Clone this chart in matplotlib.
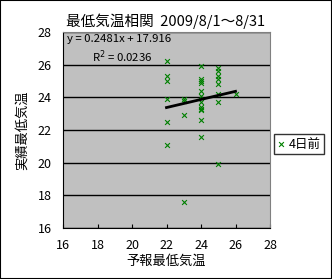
import matplotlib
matplotlib.use("Agg")
import matplotlib.pyplot as plt
import numpy as np

plt.rcParams['font.family'] = ['Noto Sans CJK JP', 'DejaVu Sans']

# 予報 (x) と 実績 (y) の最低気温, 8/1〜8/31
forecast = [22, 22, 22, 22, 22, 22,
            23, 23, 23, 23,
            24, 24, 24, 24, 24, 24, 24, 24, 24, 24, 24, 24,
            25, 25, 25, 25, 25, 25, 25, 25,
            26]
actual = [26.2, 25.3, 25.0, 23.9, 22.5, 21.1,
          23.9, 23.8, 22.9, 17.6,
          25.9, 25.1, 25.0, 24.9, 24.4, 24.1, 23.7, 23.4, 23.3, 23.2, 22.6, 21.6,
          25.8, 25.6, 25.3, 25.1, 24.8, 24.2, 23.7, 19.9,
          24.2]
slope, intercept = 0.2481, 17.916
r2 = 0.0236

x_ticks = [16, 18, 20, 22, 24, 26, 28]
y_ticks = [16, 18, 20, 22, 24, 26, 28]

fig = plt.figure(figsize=(3.32, 2.79), dpi=100)
ax = fig.add_axes([63 / 332, 1 - 228 / 279, 207 / 332, 196 / 279])
ax.set_facecolor('#c0c0c0')

ax.scatter(forecast, actual, marker='x', color='#008000', s=12, linewidths=0.8,
           label='4日前', zorder=3)

xs = np.array([min(forecast), max(forecast)])
ax.plot(xs, slope * xs + intercept, color='black', lw=2, zorder=4)

ax.set_xlim(16, 28)
ax.set_ylim(16, 28)
ax.set_xticks(x_ticks)
ax.set_yticks(y_ticks)
ax.grid(axis='y', color='black', lw=1)
ax.set_axisbelow(True)
ax.tick_params(axis='x', direction='in', length=3, labelsize=9, pad=8)
ax.tick_params(axis='y', length=0, labelsize=9, pad=8)
for s in ['top', 'right']:
    ax.spines[s].set_color('#808080')
for s in ['left', 'bottom']:
    ax.spines[s].set_color('black')

ax.text(0.02, 0.965, 'y = %.4fx + %.3f' % (slope, intercept), transform=ax.transAxes,
        fontsize=8.2, va='center', ha='left')
ax.text(0.14, 0.875, 'R$^2$ = %.4f' % r2, transform=ax.transAxes,
        fontsize=8.2, va='center', ha='left')

fig.text(0.5, 1 - 21 / 279, '最低気温相関  2009/8/1～8/31', fontsize=10.5, ha='center', va='center')
ax.set_xlabel('予報最低気温', fontsize=9.5, labelpad=2)
ax.set_ylabel('実績最低気温', fontsize=9.5)
ax.yaxis.set_label_coords(-0.165, 0.5)

leg = fig.legend(loc='center', bbox_to_anchor=(299 / 332, 1 - 144 / 279), fontsize=9,
                 frameon=True, fancybox=False, edgecolor='black', handlelength=0.6,
                 handletextpad=0.3, borderpad=0.25, borderaxespad=0)
leg.get_frame().set_linewidth(1)

fig.patches.append(plt.Rectangle((0, 0), 1, 1, transform=fig.transFigure, fill=False,
                                 edgecolor='black', lw=1.5))

fig.savefig('out.png', dpi=100)
